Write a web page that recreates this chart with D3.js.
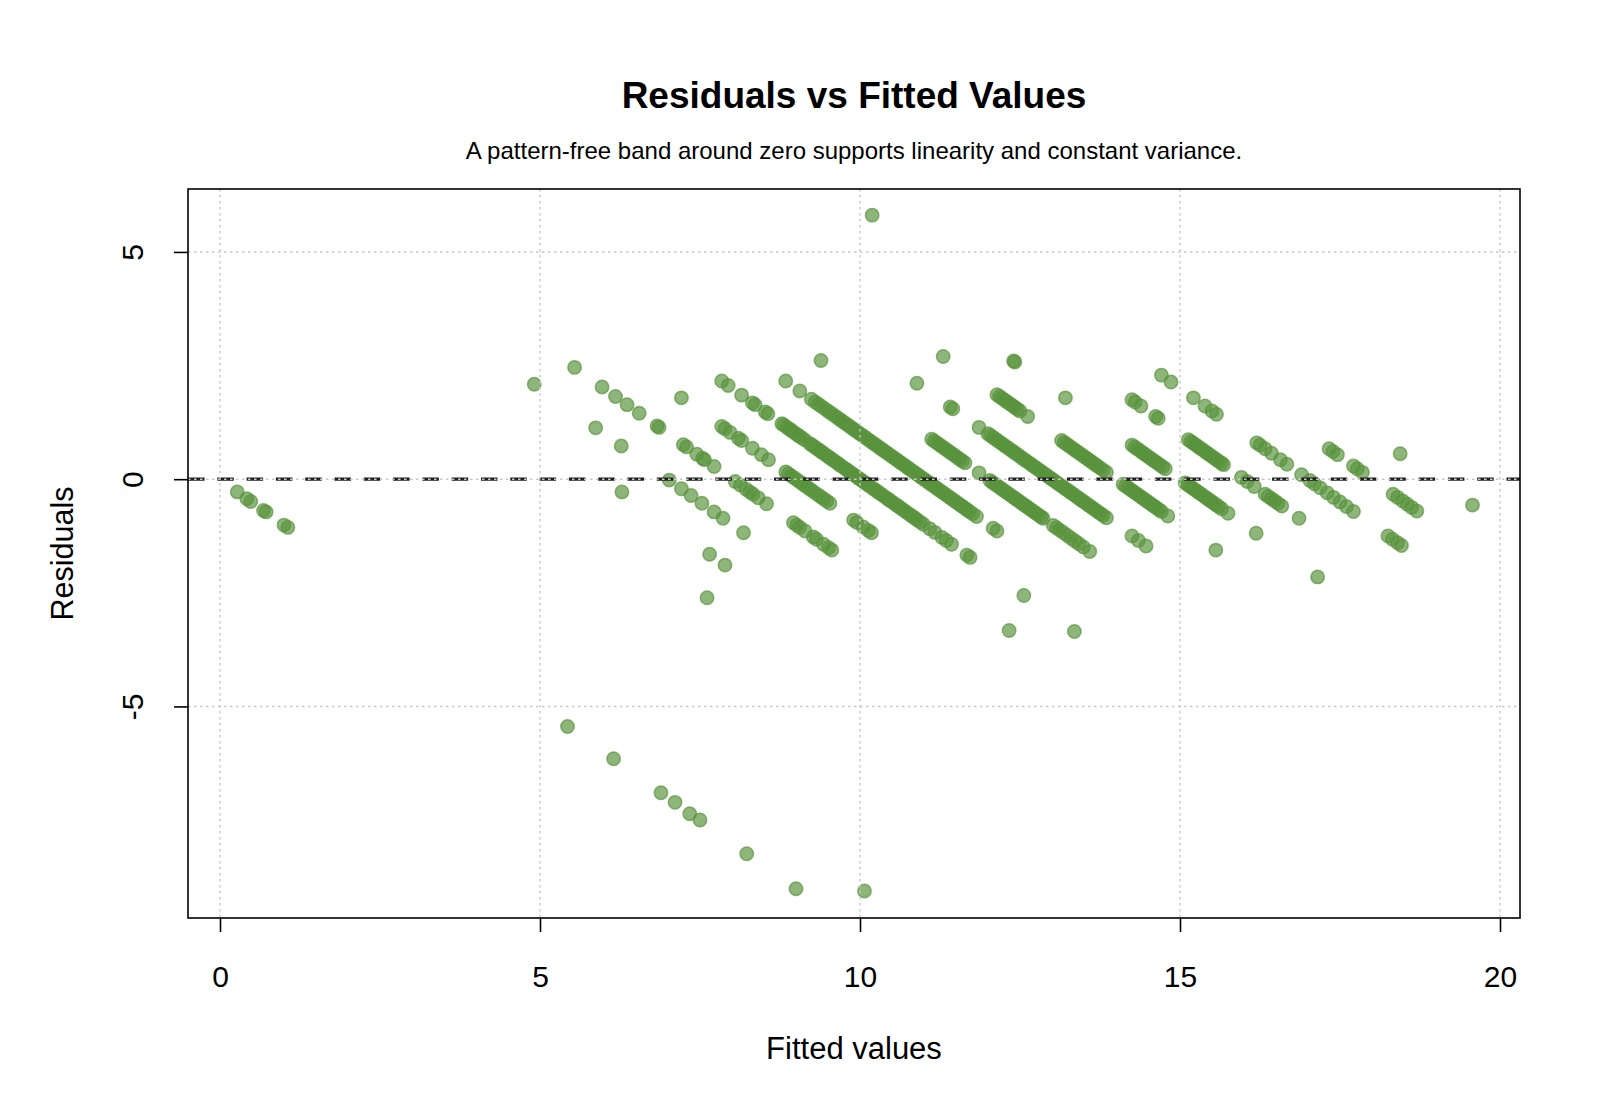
<!DOCTYPE html>
<html>
<head>
<meta charset="utf-8">
<script src="https://cdn.jsdelivr.net/npm/d3@7"></script>
<style>
  html, body { margin: 0; padding: 0; background: #ffffff; }
  svg { display: block; }
  text { font-family: "Liberation Sans", Arial, Helvetica, sans-serif; fill: #000; }
</style>
</head>
<body>
<svg id="chart" width="1600" height="1108"></svg>
<script>
// ---- Data (fitted value, residual), grouped by diagonal band ----
const fittedA = [0.27,0.42,0.48,0.68,0.72,1.00,1.06,5.43,6.15,6.89,7.11,7.34,7.50,8.23,9.00,10.07];
const residA  = [-0.28,-0.43,-0.49,-0.69,-0.72,-1.01,-1.06,-5.44,-6.15,-6.90,-7.11,-7.36,-7.50,-8.24,-9.01,-9.06];

const fittedB = [7.61, 6.28,7.65,7.89, 4.91,5.87,6.27,7.02,7.21,7.36,7.53,7.72,7.86,8.18];
const residB  = [-2.61, -0.28,-1.65,-1.89, 2.09,1.13,0.73,-0.02,-0.21,-0.36,-0.53,-0.72,-0.86,-1.18];

const fittedC = [5.54,5.97,6.18,6.36,6.55,6.83,6.86,7.24,7.29,7.45,7.54,7.57,7.72,8.05,8.13,8.22,8.28,8.33,8.41,8.54,8.96,9.01,9.06,9.14,9.27,9.32,9.43,9.51,9.56];
const residC  = [2.46,2.03,1.82,1.64,1.45,1.17,1.14,0.76,0.71,0.55,0.46,0.43,0.28,-0.05,-0.13,-0.22,-0.28,-0.33,-0.41,-0.54,-0.96,-1.01,-1.06,-1.14,-1.27,-1.32,-1.43,-1.51,-1.56];

const fittedD = [7.21,7.84,7.89,7.97,8.10,8.15,8.32,8.46,8.57,
  8.84,8.88,8.93,8.98,9.03,9.08,9.12,9.17,9.22,9.27,9.33,9.38,9.43,9.48,9.53,
  9.90,9.95,10.05,10.13,10.18, 12.33];
const residD  = [1.79,1.16,1.11,1.03,0.90,0.85,0.68,0.54,0.43,
  0.16,0.12,0.07,0.02,-0.03,-0.08,-0.12,-0.17,-0.22,-0.27,-0.33,-0.38,-0.43,-0.48,-0.53,
  -0.90,-0.95,-1.05,-1.13,-1.18, -3.33];

const fittedE = [7.84,7.94,8.15,8.32,8.36,8.52,8.56,
  8.78,8.81,8.86,8.90,8.93,8.97,9.02,9.05,9.09,9.14,9.22,9.25,9.29,9.33,9.37,9.40,9.44,9.49,9.52,9.56,9.60,9.65,9.68,9.72,9.77,9.80,9.84,9.88,9.92,9.96,10.00,10.04,10.08,10.12,10.16,10.21,10.25,10.28,10.32,10.36,10.41,10.44,10.48,10.53,10.57,10.60,10.64,10.68,10.72,10.77,10.81,10.85,10.89,10.94,10.99,
  11.09,11.17,11.28,11.35,11.43,11.67,11.72,12.56,13.35];
const residE  = [2.16,2.06,1.85,1.68,1.64,1.48,1.44,
  1.22,1.19,1.14,1.10,1.07,1.03,0.98,0.95,0.91,0.86,0.78,0.75,0.71,0.67,0.63,0.60,0.56,0.51,0.48,0.44,0.40,0.35,0.32,0.28,0.23,0.20,0.16,0.12,0.08,0.04,0.00,-0.04,-0.08,-0.12,-0.16,-0.21,-0.25,-0.28,-0.32,-0.36,-0.41,-0.44,-0.48,-0.53,-0.57,-0.60,-0.64,-0.68,-0.72,-0.77,-0.81,-0.85,-0.89,-0.94,-0.99,
  -1.09,-1.17,-1.28,-1.35,-1.43,-1.67,-1.72,-2.56,-3.35];

const fittedF = [8.84,9.06,
  9.24,9.30,9.35,9.40,9.46,9.51,9.56,9.61,9.66,9.70,9.74,9.78,9.82,9.86,9.90,9.94,9.98,10.02,10.06,10.10,10.14,10.18,10.22,10.26,10.30,10.34,10.38,10.42,10.46,10.50,10.54,10.58,10.62,10.66,10.70,10.74,10.78,10.83,10.87,10.91,10.95,10.99,11.03,11.07,11.11,11.15,11.19,11.23,11.27,11.31,11.35,11.39,11.43,11.47,11.51,11.55,11.59,11.63,11.67,11.71,11.76,11.82,
  12.08,12.14];
const residF  = [2.16,1.94,
  1.76,1.70,1.65,1.60,1.54,1.49,1.44,1.39,1.34,1.30,1.26,1.22,1.18,1.14,1.10,1.06,1.02,0.98,0.94,0.90,0.86,0.82,0.78,0.74,0.70,0.66,0.62,0.58,0.54,0.50,0.46,0.42,0.38,0.34,0.30,0.26,0.22,0.17,0.13,0.09,0.05,0.01,-0.03,-0.07,-0.11,-0.15,-0.19,-0.23,-0.27,-0.31,-0.35,-0.39,-0.43,-0.47,-0.51,-0.55,-0.59,-0.63,-0.67,-0.71,-0.76,-0.82,
  -1.08,-1.14];

const fittedG = [9.39,
  11.12,11.16,11.20,11.24,11.28,11.32,11.36,11.40,11.44,11.48,11.52,11.56,11.60,11.64,
  11.86,
  12.03,12.07,12.11,12.15,12.19,12.23,12.27,12.31,12.35,12.39,12.43,12.47,12.51,12.55,12.59,12.63,12.67,12.71,12.75,12.79,12.83,12.86,
  13.02,13.07,13.12,13.18,13.24,13.30,13.36,13.42,13.49,13.59];
const residG  = [2.61,
  0.88,0.84,0.80,0.76,0.72,0.68,0.64,0.60,0.56,0.52,0.48,0.44,0.40,0.36,
  0.14,
  -0.03,-0.07,-0.11,-0.15,-0.19,-0.23,-0.27,-0.31,-0.35,-0.39,-0.43,-0.47,-0.51,-0.55,-0.59,-0.63,-0.67,-0.71,-0.75,-0.79,-0.83,-0.86,
  -1.02,-1.07,-1.12,-1.18,-1.24,-1.30,-1.36,-1.42,-1.49,-1.59];

const fittedH = [10.89,11.41,11.45,11.86,
  12.00,12.04,12.08,12.12,12.16,12.20,12.24,12.28,12.32,12.36,12.40,12.44,12.48,12.52,12.56,12.60,12.64,12.68,12.72,12.76,12.80,12.84,12.88,12.92,12.96,13.00,13.04,13.08,13.12,13.16,13.20,13.24,13.28,13.32,13.36,13.40,13.44,13.48,13.52,13.56,13.60,13.64,13.68,13.72,13.76,13.80,13.85,
  14.25,14.35,14.47];
const residH  = [2.11,1.59,1.55,1.14,
  1.00,0.96,0.92,0.88,0.84,0.80,0.76,0.72,0.68,0.64,0.60,0.56,0.52,0.48,0.44,0.40,0.36,0.32,0.28,0.24,0.20,0.16,0.12,0.08,0.04,0.00,-0.04,-0.08,-0.12,-0.16,-0.20,-0.24,-0.28,-0.32,-0.36,-0.40,-0.44,-0.48,-0.52,-0.56,-0.60,-0.64,-0.68,-0.72,-0.76,-0.80,-0.85,
  -1.25,-1.35,-1.47];

const fittedI = [11.30,
  12.14,12.18,12.22,12.26,12.30,12.34,12.38,12.42,12.46,12.50,12.62,
  13.15,13.19,13.23,13.27,13.31,13.35,13.39,13.43,13.47,13.51,13.55,13.59,13.63,13.67,13.71,13.75,13.80,13.85,
  14.11,14.15,14.19,14.23,14.27,14.31,14.35,14.39,14.43,14.47,14.51,14.55,14.59,14.63,14.67,14.71,14.81,
  15.56];
const residI  = [2.70,
  1.86,1.82,1.78,1.74,1.70,1.66,1.62,1.58,1.54,1.50,1.38,
  0.85,0.81,0.77,0.73,0.69,0.65,0.61,0.57,0.53,0.49,0.45,0.41,0.37,0.33,0.29,0.25,0.20,0.15,
  -0.11,-0.15,-0.19,-0.23,-0.27,-0.31,-0.35,-0.39,-0.43,-0.47,-0.51,-0.55,-0.59,-0.63,-0.67,-0.71,-0.81,
  -1.56];

const fittedJ = [12.40,12.42,13.21,
  14.25,14.29,14.33,14.37,14.41,14.45,14.49,14.53,14.57,14.61,14.65,14.69,14.73,14.77,
  15.08,15.12,15.16,15.20,15.24,15.28,15.32,15.36,15.40,15.44,15.48,15.52,15.56,15.60,15.65,15.75,
  16.19,17.15];
const residJ  = [2.60,2.58,1.79,
  0.75,0.71,0.67,0.63,0.59,0.55,0.51,0.47,0.43,0.39,0.35,0.31,0.27,0.23,
  -0.08,-0.12,-0.16,-0.20,-0.24,-0.28,-0.32,-0.36,-0.40,-0.44,-0.48,-0.52,-0.56,-0.60,-0.65,-0.75,
  -1.19,-2.15];

const fittedK = [10.19, 14.25,14.30,14.39,14.62,14.66,
  15.13,15.17,15.21,15.25,15.29,15.33,15.37,15.41,15.45,15.49,15.53,15.57,15.61,15.65,15.68,
  15.96,16.05,16.16, 16.33,16.38,16.43,16.48,16.53,16.59, 16.86];
const residK  = [5.81, 1.75,1.70,1.61,1.38,1.34,
  0.87,0.83,0.79,0.75,0.71,0.67,0.63,0.59,0.55,0.51,0.47,0.43,0.39,0.35,0.32,
  0.04,-0.05,-0.16, -0.33,-0.38,-0.43,-0.48,-0.53,-0.59, -0.86];

const fittedL = [14.71,14.86,15.21,15.39,15.50,15.57, 16.20,16.25,16.33,16.43,16.57,16.67,
  16.90,17.03,17.10,17.19,17.30,17.40,17.50,17.60,17.71, 18.25,18.32,18.40,18.46];
const residL  = [2.29,2.14,1.79,1.61,1.50,1.43, 0.80,0.75,0.67,0.57,0.43,0.33,
  0.10,-0.03,-0.10,-0.19,-0.30,-0.40,-0.50,-0.60,-0.71, -1.25,-1.32,-1.40,-1.46];

const fittedM = [17.33,17.39,17.46,17.71,17.77,17.85,18.33,18.40,18.48,18.55,18.62,18.70, 18.44,19.57];
const residM  = [0.67,0.61,0.54,0.29,0.23,0.15,-0.33,-0.40,-0.48,-0.55,-0.62,-0.70, 0.56,-0.57];

const xTicks = [0, 5, 10, 15, 20];
const yTicks = [-5, 0, 5];
const titleText = "Residuals vs Fitted Values";
const subtitleText = "A pattern-free band around zero supports linearity and constant variance.";
const xLabel = "Fitted values";
const yLabel = "Residuals";

// ---- Assemble points ----
const groups = [
  [fittedA, residA], [fittedB, residB], [fittedC, residC], [fittedD, residD],
  [fittedE, residE], [fittedF, residF], [fittedG, residG], [fittedH, residH],
  [fittedI, residI], [fittedJ, residJ], [fittedK, residK], [fittedL, residL],
  [fittedM, residM]
];
const points = [];
groups.forEach(([f, r]) => {
  const n = Math.min(f.length, r.length);
  for (let i = 0; i < n; i++) points.push({ fitted: f[i], resid: r[i] });
});

// ---- Layout ----
const plot = { left: 188, right: 1520, top: 189, bottom: 918 };
const x = d3.scaleLinear().domain([-0.5, 20.3125]).range([plot.left, plot.right]);
const y = d3.scaleLinear().domain([-9.655, 6.385]).range([plot.bottom, plot.top]);
const fmt = d => String(d); // plain hyphen-minus like the reference

const svg = d3.select("#chart");
svg.append("rect").attr("width", 1600).attr("height", 1108).attr("fill", "#ffffff");

// Points
const clipId = "plotClip";
svg.append("clipPath").attr("id", clipId).append("rect")
  .attr("x", plot.left).attr("y", plot.top)
  .attr("width", plot.right - plot.left).attr("height", plot.bottom - plot.top);

svg.append("g").attr("clip-path", `url(#${clipId})`)
  .selectAll("circle").data(points).join("circle")
  .attr("cx", d => x(d.fitted))
  .attr("cy", d => y(d.resid))
  .attr("r", 6.7)
  .attr("fill", "#58943c")
  .attr("fill-opacity", 0.68)
  .attr("stroke", "#58943c")
  .attr("stroke-opacity", 0.68)
  .attr("stroke-width", 1.5);

// Zero reference line (dashed)
svg.append("line")
  .attr("x1", plot.left).attr("x2", plot.right)
  .attr("y1", y(0)).attr("y2", y(0))
  .attr("stroke", "#1f1f1f").attr("stroke-width", 3.2)
  .attr("stroke-dasharray", "16.5,12.8");

// Grid (dotted, drawn on top)
const grid = svg.append("g");
grid.selectAll("line.vg").data(xTicks).join("line").attr("class", "vg")
  .attr("x1", d => x(d)).attr("x2", d => x(d))
  .attr("y1", plot.top).attr("y2", plot.bottom)
  .attr("stroke", "#c8c8c8").attr("stroke-width", 1.4).attr("stroke-dasharray", "2.5,3.5");
grid.selectAll("line.hg").data(yTicks).join("line").attr("class", "hg")
  .attr("x1", plot.left).attr("x2", plot.right)
  .attr("y1", d => y(d)).attr("y2", d => y(d))
  .attr("stroke", "#c8c8c8").attr("stroke-width", 1.4).attr("stroke-dasharray", "2.5,3.5");

// Box
svg.append("rect")
  .attr("x", plot.left).attr("y", plot.top)
  .attr("width", plot.right - plot.left).attr("height", plot.bottom - plot.top)
  .attr("fill", "none").attr("stroke", "#000").attr("stroke-width", 1.6);

// X axis
const xAxis = d3.axisBottom(x).tickValues(xTicks).tickSize(14).tickPadding(0).tickFormat(fmt);
const gx = svg.append("g").attr("transform", `translate(0,${plot.bottom})`).call(xAxis);
gx.select(".domain").remove();
gx.selectAll(".tick line").attr("stroke", "#000").attr("stroke-width", 1.6);
gx.selectAll(".tick text")
  .attr("y", 69).attr("dy", null)
  .style("font-family", '"Liberation Sans", Arial, sans-serif')
  .style("font-size", "30px").attr("fill", "#000");

// Y axis
const yAxis = d3.axisLeft(y).tickValues(yTicks).tickSize(14).tickFormat(fmt);
const gy = svg.append("g").attr("transform", `translate(${plot.left},0)`).call(yAxis);
gy.select(".domain").remove();
gy.selectAll(".tick line").attr("stroke", "#000").attr("stroke-width", 1.6);
gy.selectAll(".tick text")
  .attr("x", null).attr("dy", null)
  .attr("text-anchor", "middle")
  .attr("transform", "translate(-45,0) rotate(-90)")
  .attr("y", 0)
  .style("font-family", '"Liberation Sans", Arial, sans-serif')
  .style("font-size", "30px").attr("fill", "#000");

// Titles
const cx = (plot.left + plot.right) / 2;
svg.append("text").attr("x", cx).attr("y", 108).attr("text-anchor", "middle")
  .style("font-size", "37px").style("font-weight", "bold").text(titleText);
svg.append("text").attr("x", cx).attr("y", 159).attr("text-anchor", "middle")
  .style("font-size", "24px").text(subtitleText);
svg.append("text").attr("x", cx).attr("y", 1059).attr("text-anchor", "middle")
  .style("font-size", "31px").text(xLabel);
svg.append("text").attr("transform", `translate(73,${(plot.top + plot.bottom) / 2}) rotate(-90)`)
  .attr("text-anchor", "middle").style("font-size", "30.5px").text(yLabel);
</script>
</body>
</html>
